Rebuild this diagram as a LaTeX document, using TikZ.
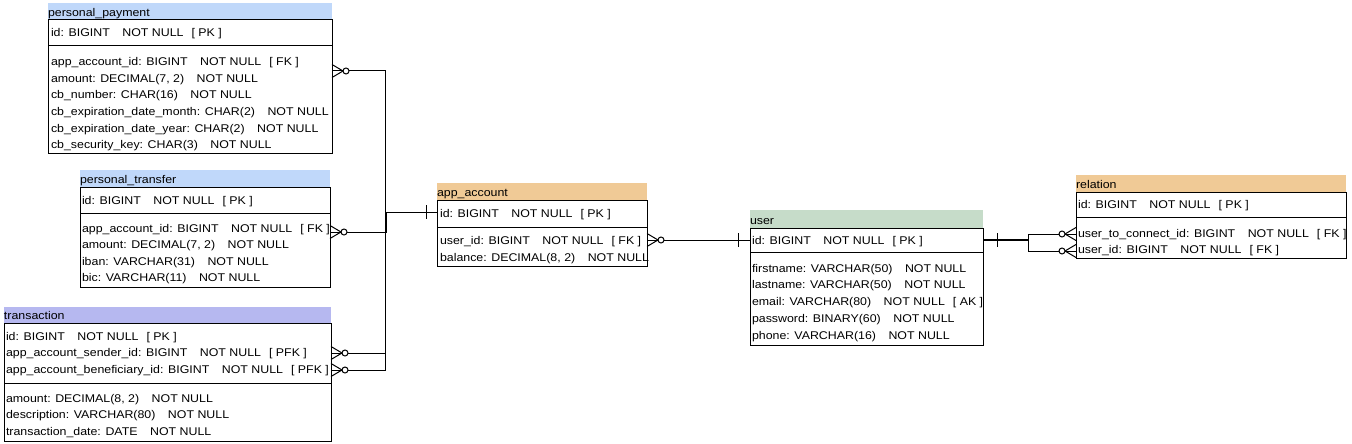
\documentclass[tikz,border=0pt]{standalone}
\usepackage{fontspec}
\setmainfont[FakeStretch=1.105]{Liberation Sans}
\usetikzlibrary{calc}
\definecolor{cBlue}{RGB}{192,216,250}
\definecolor{cLav}{RGB}{182,184,240}
\definecolor{cTan}{RGB}{240,202,150}
\definecolor{cGreen}{RGB}{198,220,201}
\newcommand{\gA}{\hspace{12.5pt}}
\newcommand{\gB}{\hspace{8pt}}
\begin{document}
\begin{tikzpicture}[x=1pt,y=-1pt,
  line/.style={line width=1pt},
  body/.style={draw=black,line width=1pt,fill=white,anchor=north west,inner sep=0pt,outer sep=0pt},
  hdr/.style={fill=#1,draw=none,anchor=north west,inner sep=0pt,outer sep=0pt},
  txt/.style={anchor=base west,inner sep=0pt,outer sep=0pt,font=\fontsize{11.2pt}{13pt}\selectfont},
  conn/.style={line width=1pt},
  zmany/.pic={\draw[conn] (0,-6.5)--(11,0)--(0,6.5);
              \draw[conn] (0,0)--(11,0);
              \draw[conn,fill=white] (14,0) circle[radius=3pt];},
  onebar/.pic={\draw[conn] (0,-7)--(0,7);}
]
\useasboundingbox (0,0) rectangle (1352,444);
\fill[white] (0,0) rectangle (1352,444);

% personal_payment
\node[hdr=cBlue,minimum width=284pt,minimum height=17pt] (pph) at (48,3) {};
\node[body,minimum width=284pt,minimum height=133pt] (pp) at (48,20) {};
\node[txt] (ppt) at (48,16.5) {personal\_payment};
\draw[line] (48,46)--(332,46);
\node[txt] (pp1) at (51,37) {id: BIGINT\gA NOT NULL\gB[ PK ]};
\node[txt] (pp2) at (51,66) {app\_account\_id: BIGINT\gA NOT NULL\gB[ FK ]};
\node[txt] (pp3) at (51,82) {amount: DECIMAL(7, 2)\gA NOT NULL};
\node[txt] (pp4) at (51,99) {cb\_number: CHAR(16)\gA NOT NULL};
\node[txt] (pp5) at (51,115) {cb\_expiration\_date\_month: CHAR(2)\gA NOT NULL};
\node[txt] (pp6) at (51,132) {cb\_expiration\_date\_year: CHAR(2)\gA NOT NULL};
\node[txt] (pp7) at (51,148) {cb\_security\_key: CHAR(3)\gA NOT NULL};

% personal_transfer
\node[hdr=cBlue,minimum width=250pt,minimum height=17pt] (pth) at (80,170) {};
\node[body,minimum width=250pt,minimum height=100pt] (pt) at (80,187) {};
\node[txt] (ptt) at (80,183.5) {personal\_transfer};
\draw[line] (80,213)--(330,213);
\node[txt] (pt1) at (82,204) {id: BIGINT\gA NOT NULL\gB[ PK ]};
\node[txt] (pt2) at (82,232) {app\_account\_id: BIGINT\gA NOT NULL\gB[ FK ]};
\node[txt] (pt3) at (82,248) {amount: DECIMAL(7, 2)\gA NOT NULL};
\node[txt] (pt4) at (82,265) {iban: VARCHAR(31)\gA NOT NULL};
\node[txt] (pt5) at (82,281) {bic: VARCHAR(11)\gA NOT NULL};

% transaction
\node[hdr=cLav,minimum width=327pt,minimum height=16pt] (trh) at (4,307) {};
\node[body,minimum width=327pt,minimum height=118pt] (tr) at (4,323) {};
\node[txt] (trt) at (4,319.5) {transaction};
\draw[line] (4,383)--(331,383);
\node[txt] (tr1) at (6,340) {id: BIGINT\gA NOT NULL\gB[ PK ]};
\node[txt] (tr2) at (6,356) {app\_account\_sender\_id: BIGINT\gA NOT NULL\gB[ PFK ]};
\node[txt] (tr3) at (6,373) {app\_account\_beneficiary\_id: BIGINT\gA NOT NULL\gB[ PFK ]};
\node[txt] (tr4) at (6,402) {amount: DECIMAL(8, 2)\gA NOT NULL};
\node[txt] (tr5) at (6,418) {description: VARCHAR(80)\gA NOT NULL};
\node[txt] (tr6) at (6,435) {transaction\_date: DATE\gA NOT NULL};

% app_account
\node[hdr=cTan,minimum width=210pt,minimum height=17pt] (aah) at (437,183) {};
\node[body,minimum width=210pt,minimum height=66pt] (aa) at (437,200) {};
\node[txt] (aat) at (437,196.5) {app\_account};
\draw[line] (437,227)--(647,227);
\node[txt] (aa1) at (440,217) {id: BIGINT\gA NOT NULL\gB[ PK ]};
\node[txt] (aa2) at (440,244) {user\_id: BIGINT\gA NOT NULL\gB[ FK ]};
\node[txt] (aa3) at (440,261) {balance: DECIMAL(8, 2)\gA NOT NULL};

% user
\node[hdr=cGreen,minimum width=233pt,minimum height=18pt] (ush) at (750,210) {};
\node[body,minimum width=233pt,minimum height=117pt] (us) at (750,228) {};
\node[txt] (ust) at (750,224) {user};
\draw[line] (750,252)--(983,252);
\node[txt] (us1) at (752,244) {id: BIGINT\gA NOT NULL\gB[ PK ]};
\node[txt] (us2) at (752,272) {firstname: VARCHAR(50)\gA NOT NULL};
\node[txt] (us3) at (752,288) {lastname: VARCHAR(50)\gA NOT NULL};
\node[txt] (us4) at (752,305) {email: VARCHAR(80)\gA NOT NULL\gB[ AK ]};
\node[txt] (us5) at (752,322) {password: BINARY(60)\gA NOT NULL};
\node[txt] (us6) at (752,339) {phone: VARCHAR(16)\gA NOT NULL};

% relation
\node[hdr=cTan,minimum width=270pt,minimum height=17pt] (rlh) at (1076,175) {};
\node[body,minimum width=270pt,minimum height=66pt] (rl) at (1076,192) {};
\node[txt] (rlt) at (1076,188.5) {relation};
\draw[line] (1076,217)--(1346,217);
\node[txt] (rl1) at (1078,208) {id: BIGINT\gA NOT NULL\gB[ PK ]};
\node[txt] (rl2) at (1078,237) {user\_to\_connect\_id: BIGINT\gA NOT NULL\gB[ FK ]};
\node[txt] (rl3) at (1078,253) {user\_id: BIGINT\gA NOT NULL\gB[ FK ]};

% connector end points
\coordinate (ppfk) at ($(pp.north east)+(0,51)$);
\coordinate (ptfk) at ($(pt.north east)+(0,45)$);
\coordinate (trs) at ($(tr.north east)+(0,30)$);
\coordinate (trb) at ($(tr.north east)+(0,47)$);
\coordinate (aapk) at ($(aa.north west)+(0,12)$);
\coordinate (aafk) at ($(aa.north east)+(0,40)$);
\coordinate (uspk) at ($(us.north west)+(0,12)$);
\coordinate (usr) at ($(us.north east)+(0,12)$);
\coordinate (rlc) at ($(rl.north west)+(0,42)$);
\coordinate (rlu) at ($(rl.north west)+(0,59)$);
\coordinate (jx) at (385,212);
\coordinate (jx2) at (386,212);
\coordinate (jr) at (1028,240);

% connectors
\draw[conn] (ppfk) -| (jx) -- (aapk);
\draw[conn] (ptfk) -| (jx2) -- (aapk);
\draw[conn] (trs) -| (jx);
\draw[conn] (trb) -| (jx);
\draw[conn] (aafk) -- (uspk);
\draw[conn,line width=2.5pt] (usr) -- (jr);
\draw[conn] (jr) |- (rlc);
\draw[conn] (jr) |- (rlu);

% ends
\pic at (ppfk) {zmany};
\pic at (ptfk) {zmany};
\pic at (trs) {zmany};
\pic at (trb) {zmany};
\pic at (aafk) {zmany};
\pic[xscale=-1] at (rlc) {zmany};
\pic[xscale=-1] at (rlu) {zmany};
\pic at ($(aapk)+(-11,0)$) {onebar};
\pic at ($(uspk)+(-12,0)$) {onebar};
\pic at ($(usr)+(14,0)$) {onebar};
\end{tikzpicture}
\end{document}
